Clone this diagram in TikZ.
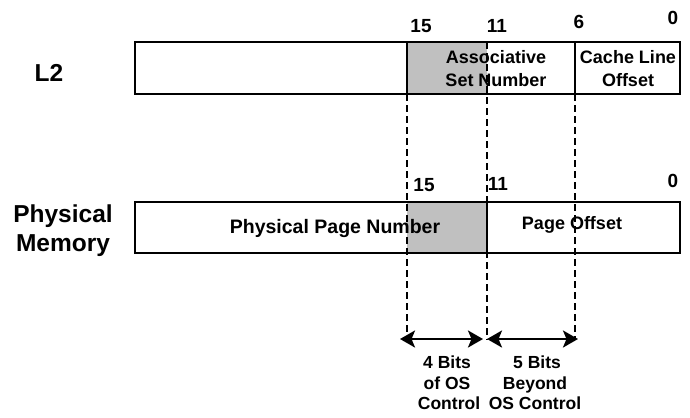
\documentclass[tikz,border=0pt]{standalone}
\usepackage{fontspec}
\setmainfont{Liberation Sans}
\usetikzlibrary{arrows.meta}
\definecolor{shadegray}{HTML}{C0C0C0}
\begin{document}
\begin{tikzpicture}[x=1bp,y=-1bp,
  boxline/.style={draw=black,line width=2.8bp},
  shadefill/.style={fill=shadegray},
  guide/.style={draw=black,line width=2.3bp,dash pattern=on 6.5bp off 4.5bp},
  spanarrow/.style={draw=black,line width=2.6bp,
    {Stealth[length=15bp,width=17bp,inset=3.5bp]}-{Stealth[length=15bp,width=17bp,inset=3.5bp]}},
  bitlbl/.style={font=\fontsize{19bp}{22bp}\selectfont\bfseries,anchor=base,inner sep=0pt},
  fieldlbl/.style={font=\fontsize{18bp}{22bp}\selectfont\bfseries,anchor=base,inner sep=0pt},
  bigfieldlbl/.style={font=\fontsize{19.5bp}{23bp}\selectfont\bfseries,anchor=base,inner sep=0pt},
  rowlbl/.style={font=\fontsize{24.5bp}{29bp}\selectfont\bfseries,anchor=base,inner sep=0pt},
  notelbl/.style={font=\fontsize{17.5bp}{21bp}\selectfont\bfseries,anchor=base,inner sep=0pt}
]
\useasboundingbox[fill=white] (0,0) rectangle (690,417);

% --- key coordinates
\coordinate (l2tl) at (135,42);  \coordinate (l2br) at (680,94);
\coordinate (pmtl) at (135,202); \coordinate (pmbr) at (680,253);

% shaded regions
\fill[shadefill] (407,42) rectangle (487,94);
\fill[shadefill] (407,202) rectangle (487,253);

% guide coordinates
\coordinate (g15top) at (407,94);
\coordinate (g11top) at (487,42);
\coordinate (g6top)  at (575,94);
\coordinate (g15bot) at (407,337);
\coordinate (g11bot) at (487,340);
\coordinate (g6bot)  at (575,340);

% dashed guides
\draw[guide] (g15top) -- (g15bot);
\draw[guide] (g11top) -- (g11bot);
\draw[guide] (g6top) -- (g6bot);

% boxes
\draw[boxline] (l2tl) rectangle (l2br);
\draw[boxline] (pmtl) rectangle (pmbr);
\coordinate (d15a) at (407,42); \coordinate (d15b) at (407,94);
\coordinate (d6a) at (575,42);  \coordinate (d6b) at (575,94);
\coordinate (d11a) at (487,202); \coordinate (d11b) at (487,253);
\draw[boxline] (d15a) -- (d15b);
\draw[boxline] (d6a) -- (d6b);
\draw[boxline] (d11a) -- (d11b);

% arrows
\coordinate (a1l) at (400,339); \coordinate (a1r) at (483,339);
\coordinate (a2l) at (487,339); \coordinate (a2r) at (578,339);
\draw[spanarrow] (a1l) -- (a1r);
\draw[spanarrow] (a2l) -- (a2r);

% row labels
\node[rowlbl] (lblL2) at (49,81) {L2};
\node[rowlbl] (lblPhys) at (63,222) {Physical};
\node[rowlbl] (lblMem) at (63,251) {Memory};

% bit labels top
\node[bitlbl] (t15) at (421,32) {15};
\node[bitlbl] (t11) at (497,32) {11};
\node[bitlbl] (t6) at (579,28) {6};
\node[bitlbl] (t0) at (673,24) {0};
% bit labels bottom
\node[bitlbl] (b15) at (424,191) {15};
\node[bitlbl] (b11) at (498,190) {11};
\node[bitlbl] (b0) at (673,187) {0};

% field labels
\node[fieldlbl] (assoc1) at (496,63) {Associative};
\node[fieldlbl] (assoc2) at (496,86) {Set Number};
\node[fieldlbl] (cache1) at (628,63) {Cache Line};
\node[fieldlbl] (cache2) at (628,86) {Offset};
\node[bigfieldlbl] (ppn) at (335,233) {Physical Page Number};
\node[fieldlbl] (poff) at (572,229) {Page Offset};

% notes
\node[notelbl] (n1a) at (447,368) {4 Bits};
\node[notelbl] (n1b) at (447,389) {of OS};
\node[notelbl] (n1c) at (449,409) {Control};
\node[notelbl] (n2a) at (537,368) {5 Bits};
\node[notelbl] (n2b) at (535,389) {Beyond};
\node[notelbl] (n2c) at (535,409) {OS Control};
\end{tikzpicture}
\end{document}
